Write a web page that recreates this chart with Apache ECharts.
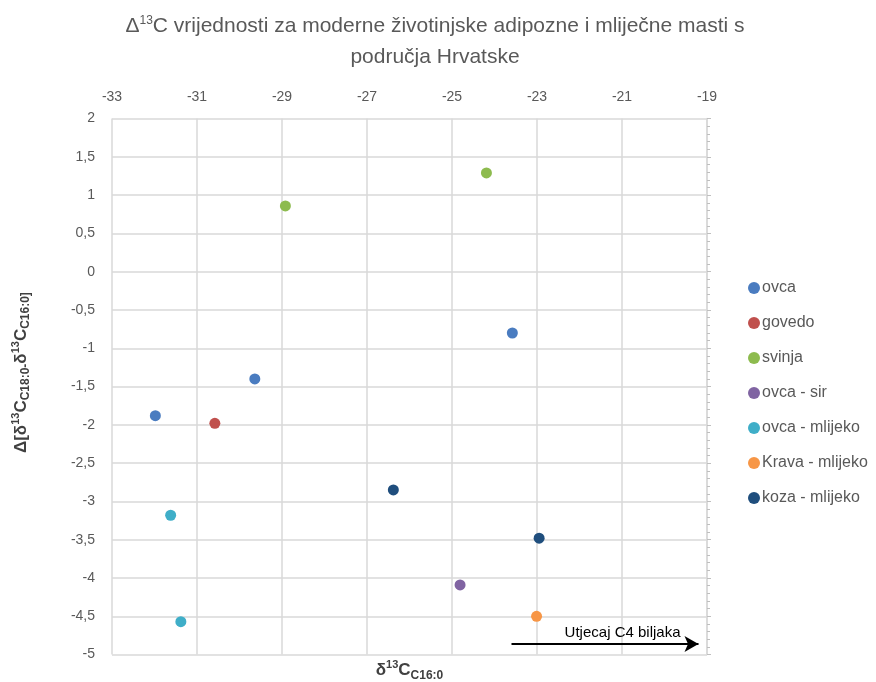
<!DOCTYPE html>
<html>
<head>
<meta charset="utf-8">
<script src="https://cdn.jsdelivr.net/npm/echarts@6/dist/echarts.min.js"></script>
<style>
html,body{margin:0;padding:0;background:#fff;}
#main{width:876px;height:682px;}
</style>
</head>
<body>
<div id="main"></div>
<script>
// ---- data ----
var seriesNames = ['ovca', 'govedo', 'svinja', 'ovca - sir', 'ovca - mlijeko', 'Krava - mlijeko', 'koza - mlijeko'];
var ovca = [[-31.98, -1.88], [-29.64, -1.40], [-23.58, -0.80]];
var govedo = [[-30.58, -1.98]];
var svinja = [[-28.92, 0.86], [-24.19, 1.29]];
var ovcaSir = [[-24.81, -4.09]];
var ovcaMlijeko = [[-31.62, -3.18], [-31.38, -4.57]];
var kravaMlijeko = [[-23.01, -4.50]];
var kozaMlijeko = [[-26.38, -2.85], [-22.95, -3.48]];
var seriesColors = ['#4A7CC0', '#C0504D', '#8DBB4E', '#8064A2', '#3FAEC8', '#F79646', '#1F4E7D'];
var arrowFrom = [-23.6, -4.86];
var arrowTo = [-19.2, -4.86];
var arrowLabel = 'Utjecaj C4 biljaka';

var FONT = '"Liberation Sans Narrow", "Liberation Sans", sans-serif';
var allData = [ovca, govedo, svinja, ovcaSir, ovcaMlijeko, kravaMlijeko, kozaMlijeko];

var series = seriesNames.map(function (n, i) {
  return {
    name: n,
    type: 'scatter',
    data: allData[i],
    symbol: 'circle',
    symbolSize: 11,
    itemStyle: { color: seriesColors[i], opacity: 1 },
    xAxisIndex: 0,
    yAxisIndex: 0
  };
});
series.push({
  name: 'arrow',
  type: 'line',
  data: [],
  xAxisIndex: 0,
  yAxisIndex: 0,
  silent: true,
  markLine: {
    silent: true,
    animation: false,
    symbol: ['none', 'arrow'],
    symbolSize: [12, 14],
    lineStyle: { color: '#000', width: 2, type: 'solid' },
    label: {
      show: true,
      position: 'insideEndTop',
      formatter: arrowLabel,
      color: '#000',
      fontSize: 15,
      fontFamily: FONT,
      distance: [18, 4]
    },
    data: [[{ coord: arrowFrom }, { coord: arrowTo }]]
  }
});

var gridColor = '#D9D9D9';
var option = {
  animation: false,
  backgroundColor: '#fff',
  title: {
    left: 430,
    top: 6,
    textAlign: 'center',
    text: 'Δ{sup|13}C vrijednosti za moderne životinjske adipozne i mliječne masti s\npodručja Hrvatske',
    textStyle: {
      color: '#595959',
      fontSize: 21,
      fontWeight: 'normal',
      fontFamily: FONT,
      lineHeight: 31,
      rich: {
        sup: { fontSize: 12, verticalAlign: 'top', lineHeight: 31, color: '#595959', fontFamily: FONT, padding: [4, 0, 0, 0] }
      }
    }
  },
  legend: {
    orient: 'vertical',
    left: 743,
    top: 275,
    itemWidth: 12,
    itemHeight: 12,
    itemGap: 19,
    icon: 'circle',
    data: seriesNames,
    textStyle: { color: '#595959', fontSize: 16, fontFamily: FONT, padding: [0, 0, 0, -3] }
  },
  grid: {
    left: 112,
    right: 169,
    top: 118.6,
    bottom: 27.4,
    containLabel: false,
    outerBoundsMode: 'none'
  },
  xAxis: [{
    type: 'value',
    position: 'top',
    min: -33,
    max: -19,
    interval: 2,
    axisLine: { show: false },
    axisTick: { show: false },
    axisLabel: { color: '#595959', fontSize: 14, fontFamily: FONT, margin: 14 },
    splitLine: { show: true, lineStyle: { color: gridColor, width: 1.5 } }
  }, {
    type: 'value',
    position: 'bottom',
    min: -33,
    max: -19,
    axisLine: { show: false },
    axisTick: { show: false },
    axisLabel: { show: false },
    splitLine: { show: false },
    name: 'δ{sup|13}C{sub|C16:0}',
    nameLocation: 'middle',
    nameGap: 5,
    nameTextStyle: {
      color: '#404040',
      fontSize: 17,
      fontWeight: 'bold',
      fontFamily: FONT,
      verticalAlign: 'top',
      lineHeight: 22,
      rich: {
        sup: { fontSize: 11, fontWeight: 'bold', color: '#404040', fontFamily: FONT, verticalAlign: 'top', lineHeight: 22 },
        sub: { fontSize: 12, fontWeight: 'bold', color: '#404040', fontFamily: FONT, verticalAlign: 'bottom', lineHeight: 22, padding: [6, 0, 0, 0] }
      }
    }
  }],
  yAxis: [{
    type: 'value',
    min: -5,
    max: 2,
    interval: 0.5,
    position: 'left',
    axisLine: { show: false },
    axisTick: { show: false },
    axisLabel: {
      color: '#595959', fontSize: 14, fontFamily: FONT, margin: 17,
      formatter: function (v) { return String(v).replace('.', ','); }
    },
    splitLine: { show: true, lineStyle: { color: gridColor, width: 1.5 } },
    name: 'Δ[δ{sup|13}C{sub|C18:0-}δ{sup|13}C{sub|C16:0]}',
    nameLocation: 'middle',
    nameGap: 80,
    nameRotate: 90,
    nameTextStyle: {
      color: '#404040',
      fontSize: 17,
      fontWeight: 'bold',
      fontFamily: FONT,
      lineHeight: 22,
      padding: [0, 0, 0, 28],
      rich: {
        sup: { fontSize: 11, fontWeight: 'bold', color: '#404040', fontFamily: FONT, verticalAlign: 'top', lineHeight: 22 },
        sub: { fontSize: 12, fontWeight: 'bold', color: '#404040', fontFamily: FONT, verticalAlign: 'bottom', lineHeight: 22, padding: [6, 0, 0, 0] }
      }
    }
  }, {
    type: 'value',
    min: -5,
    max: 2,
    interval: 0.5,
    position: 'right',
    axisLine: { show: true, lineStyle: { color: gridColor, width: 1.5 } },
    axisTick: { show: true, length: 4, lineStyle: { color: '#BFBFBF' } },
    minorTick: { show: true, splitNumber: 5, length: 3, lineStyle: { color: '#BFBFBF' } },
    axisLabel: { show: false },
    splitLine: { show: false }
  }],
  series: series
};

var chart = echarts.init(document.getElementById('main'), null, { renderer: 'canvas' });
chart.setOption(option);
</script>
</body>
</html>
